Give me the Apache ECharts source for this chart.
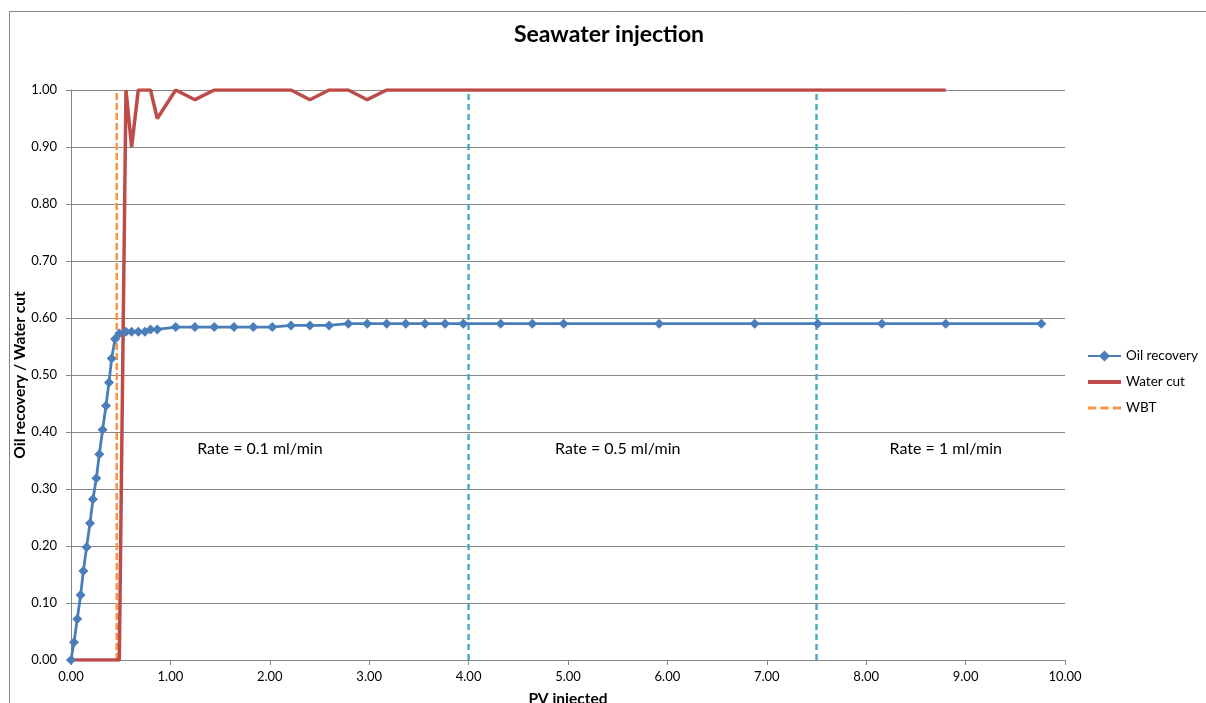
<!DOCTYPE html>
<html>
<head>
<meta charset="utf-8">
<script src="https://cdn.jsdelivr.net/npm/echarts@6/dist/echarts.min.js"></script>
<style>
html,body{margin:0;padding:0;background:#fff;}
#chart{width:1206px;height:703px;}
</style>
</head>
<body>
<div id="chart"></div>
<script>
// PV injected (x values shared by both series)
const pvInjected = [0, 0.03, 0.063, 0.097, 0.124, 0.157, 0.191, 0.221, 0.255, 0.285, 0.318, 0.352, 0.382, 0.409, 0.443, 0.486,
  0.553, 0.61, 0.677, 0.744, 0.80, 0.868, 1.053, 1.247, 1.442, 1.64, 1.834, 2.025, 2.213, 2.404, 2.596, 2.79, 2.98,
  3.176, 3.367, 3.561, 3.763, 3.947, 4.322, 4.641, 4.956, 5.917, 6.878, 7.512, 8.158, 8.80, 9.762];
const oilRecovery = [0, 0.031, 0.072, 0.114, 0.156, 0.198, 0.240, 0.282, 0.319, 0.361, 0.404, 0.446, 0.487, 0.529, 0.563, 0.573,
  0.576, 0.576, 0.576, 0.576, 0.580, 0.580, 0.584, 0.584, 0.584, 0.584, 0.584, 0.584, 0.587, 0.587, 0.587, 0.590, 0.590,
  0.590, 0.590, 0.590, 0.590, 0.590, 0.590, 0.590, 0.590, 0.590, 0.590, 0.590, 0.590, 0.590, 0.590];
// Water cut (ends at 8.80 PV)
const waterCut = [0, 0, 0, 0, 0, 0, 0, 0, 0, 0, 0, 0, 0, 0, 0, 0,
  1.0, 0.90, 1.0, 1.0, 1.0, 0.95, 1.0, 0.983, 1.0, 1.0, 1.0, 1.0, 1.0, 0.983, 1.0, 1.0, 0.983,
  1.0, 1.0, 1.0, 1.0, 1.0, 1.0, 1.0, 1.0, 1.0, 1.0, 1.0, 1.0, 1.0];
const wbtPV = 0.46;
const rateChangePV = [4.0, 7.5];
const rateLabels = ['Rate = 0.1 ml/min', 'Rate = 0.5 ml/min', 'Rate = 1 ml/min'];
const rateLabelPV = [1.9, 5.5, 8.8];
const rateLabelY = 0.37;
const seriesNames = ['Oil recovery', 'Water cut', 'WBT'];

const font = 'Lato, "Open Sans", sans-serif';
const oilData = pvInjected.map((x, i) => [x, oilRecovery[i]]);
const wcData = waterCut.map((v, i) => [pvInjected[i], v]);

const chart = echarts.init(document.getElementById('chart'), null, {renderer: 'canvas'});
const option = {
  animation: false,
  backgroundColor: '#ffffff',
  title: {
    text: 'Seawater injection',
    left: 609, top: 23, textAlign: 'center', padding: 0,
    textStyle: {fontFamily: font, fontSize: 23, fontWeight: 'bold', color: '#000'}
  },
  legend: {
    orient: 'vertical', left: 1087, top: 349, padding: 0,
    itemWidth: 33, itemHeight: 14, itemGap: 12,
    data: [
      {name: seriesNames[0]},
      {name: seriesNames[1], icon: 'path://M0,0L34,0L34,4L0,4Z'},
      {name: seriesNames[2], icon: 'path://M0,0h8v3h-8zM12,0h8v3h-8zM24,0h8v3h-8z'}
    ],
    textStyle: {fontFamily: font, fontSize: 13.5, color: '#000'}
  },
  grid: {left: 71, right: 141, top: 90, bottom: 43, outerBoundsMode: 'none', containLabel: false},
  xAxis: {
    type: 'value', min: 0, max: 10, interval: 1,
    name: 'PV injected', nameLocation: 'middle', nameGap: 31, nameMoveOverlap: false,
    nameTextStyle: {fontFamily: font, fontSize: 15.5, fontWeight: 'bold', color: '#000'},
    axisLine: {lineStyle: {color: '#868686', width: 1}},
    axisTick: {show: true, length: 5, lineStyle: {color: '#868686'}},
    axisLabel: {formatter: v => v.toFixed(2), fontFamily: font, fontSize: 13, color: '#000', margin: 10},
    splitLine: {show: false}
  },
  yAxis: {
    type: 'value', min: 0, max: 1, interval: 0.1,
    name: 'Oil recovery / Water cut', nameLocation: 'middle', nameGap: 43, nameMoveOverlap: false,
    nameTextStyle: {fontFamily: font, fontSize: 15.5, fontWeight: 'bold', color: '#000'},
    axisLine: {show: true, lineStyle: {color: '#868686', width: 1}},
    axisTick: {show: true, length: 5, lineStyle: {color: '#868686'}},
    axisLabel: {formatter: v => v.toFixed(2), fontFamily: font, fontSize: 13, color: '#000', margin: 14},
    splitLine: {show: true, lineStyle: {color: '#868686', width: 1}}
  },
  series: [
    {
      name: seriesNames[1], type: 'line', data: wcData, z: 3,
      symbol: 'none', color: '#BE4B48',
      lineStyle: {color: '#BE4B48', width: 3.5}
    },
    {
      name: seriesNames[2], type: 'line', data: [[wbtPV, 0], [wbtPV, 1]], z: 2,
      symbol: 'none', color: '#F79646',
      lineStyle: {color: '#F79646', width: 2.5, type: [7, 3]}
    },
    {
      name: seriesNames[0], type: 'line', data: oilData, z: 4,
      symbol: 'diamond', symbolSize: 10, color: '#4A7EBB',
      itemStyle: {color: '#4A7EBB'},
      lineStyle: {color: '#4A7EBB', width: 2.8}
    },
    ...rateChangePV.map(x => ({
      name: 'rate' + x, type: 'line', data: [[x, 0], [x, 1]], z: 1,
      symbol: 'none', color: '#4BACC6', silent: true,
      lineStyle: {color: '#4BACC6', width: 2.5, type: [6, 4]}
    }))
  ]
};
chart.setOption(option);

const yPix = chart.convertToPixel({gridIndex: 0}, [0, rateLabelY])[1];
const graphics = [
  {id: 'border', type: 'rect', left: 7, top: 9, shape: {x: 0, y: 0, width: 1300, height: 800},
   style: {fill: null, stroke: '#868686', lineWidth: 1}, z: 0, silent: true}
];
rateLabels.forEach((t, i) => {
  const px = chart.convertToPixel({gridIndex: 0}, [rateLabelPV[i], 0])[0];
  graphics.push({id: 'rate' + i, type: 'text', x: px, y: yPix, z: 10,
    style: {text: t, fill: '#000', fontSize: 16, fontFamily: font, align: 'center', verticalAlign: 'middle'}});
});
chart.setOption({graphic: graphics});
</script>
</body>
</html>
